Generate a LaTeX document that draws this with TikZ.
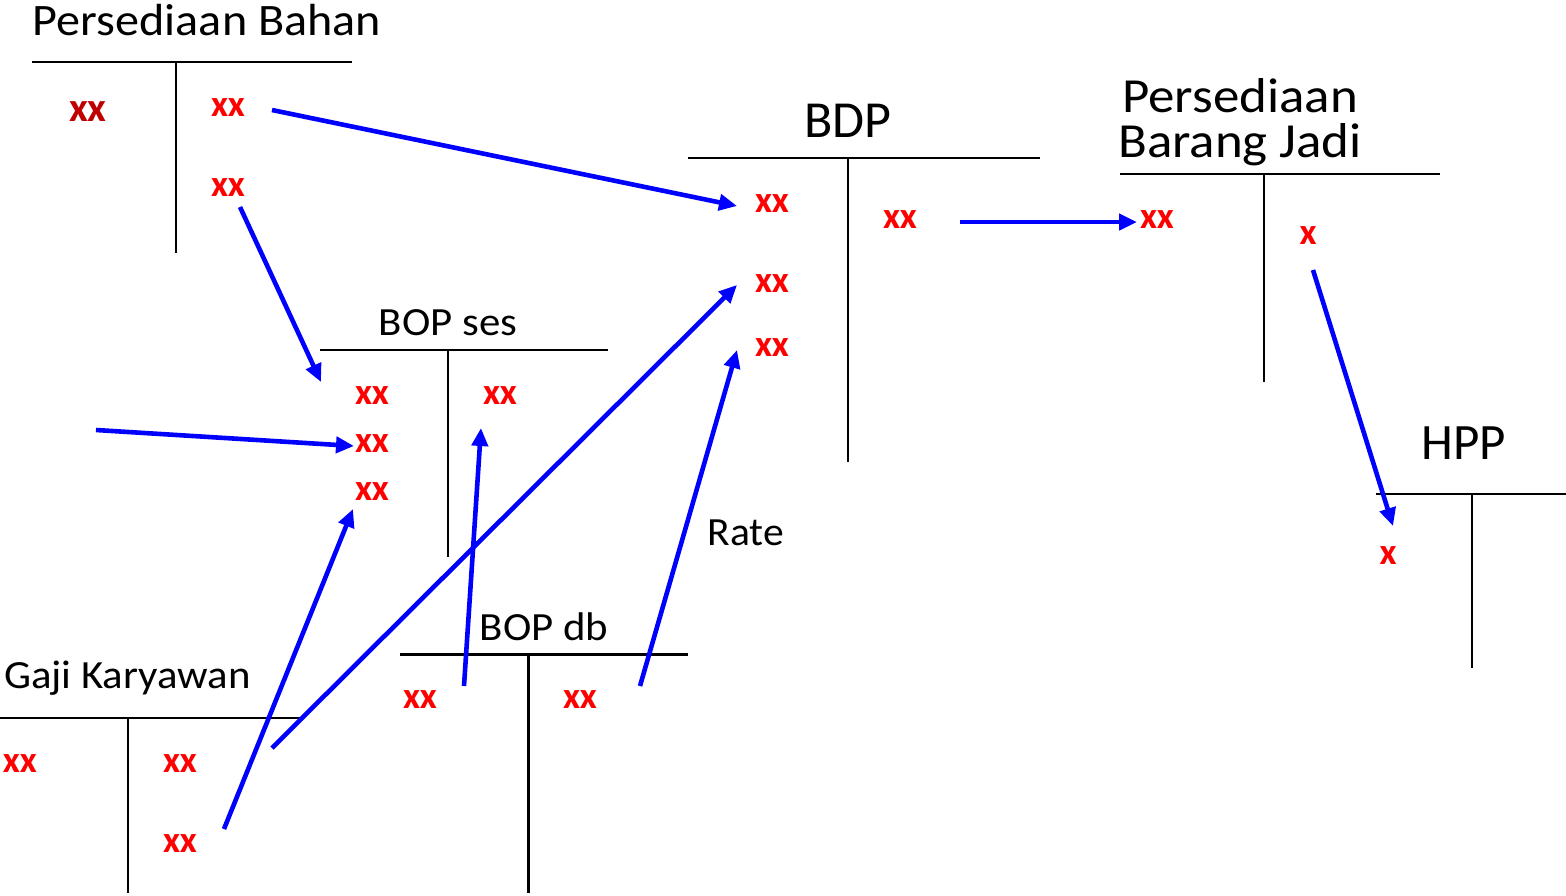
\documentclass[tikz,border=0pt]{standalone}
\usepackage{fontspec}
\setmainfont{Carlito}
\usetikzlibrary{arrows.meta}
\definecolor{xred}{HTML}{FF0000}
\definecolor{dred}{HTML}{C00000}
\definecolor{ablue}{HTML}{0000FF}
\newcommand\widetxt[1]{\scalebox{1.07}[1]{#1}}
\begin{document}
\begin{tikzpicture}[x=1pt,y=-1pt,
  acct/.style={line width=2pt,black},
  acctb/.style={line width=3pt,black},
  ttl/.style={inner sep=0pt,anchor=base,font=\fontsize{#1}{#1}\selectfont},
  amt/.style={inner sep=0pt,text=xred,font=\fontsize{37}{37}\selectfont\bfseries},
  flow/.style={ablue,line width=4.6pt,-{Triangle[length=18pt,width=16pt]}},
]
\useasboundingbox (0,0) rectangle (1566,895);
% Persediaan Bahan
\node[ttl=45] (tPB) at (207,35) {\widetxt{Persediaan Bahan}};
\draw[acct] (32,62) -- (352,62) (176,62) -- (176,253);
\node[amt,text=dred,font=\fontsize{41}{41}\selectfont\bfseries] (pb1) at (88,112) {xx};
\node[amt] (pb2) at (228,108) {xx};
\node[amt] (pb3) at (228,188) {xx};
% BDP
\node[ttl=52] (tBDP) at (848,137) {BDP};
\draw[acct] (688,158) -- (1040,158) (848,158) -- (848,462);
\node[amt] (bd1) at (772,204) {xx};
\node[amt] (bd2) at (772,284) {xx};
\node[amt] (bd3) at (772,348) {xx};
\node[amt] (bd4) at (900,220) {xx};
% Persediaan Barang Jadi
\node[ttl=49,anchor=base west] (tBJ1) at (1122,112) {\scalebox{1.08}[1]{Persediaan}};
\node[ttl=49,anchor=base west] (tBJ2) at (1118,157) {\scalebox{1.08}[1]{Barang Jadi}};
\draw[acct] (1120,174) -- (1440,174) (1264,174) -- (1264,382);
\node[amt] (bj1) at (1157,220) {xx};
\node[amt] (bj2) at (1308,236) {x};
% BOP ses
\node[ttl=40] (tBS) at (448,335) {\widetxt{BOP ses}};
\draw[acct] (320,350) -- (608,350) (448,350) -- (448,557);
\node[amt] (bs1) at (372,396) {xx};
\node[amt] (bs2) at (372,444) {xx};
\node[amt] (bs3) at (372,492) {xx};
\node[amt] (bs4) at (500,396) {xx};
% HPP
\node[ttl=51] (tHPP) at (1464,459) {HPP};
\draw[acct] (1376,494) -- (1566,494) (1472,494) -- (1472,668);
\node[amt] (hp1) at (1388,556) {x};
% BOP db
\node[ttl=40] (tBD) at (544,640) {\widetxt{BOP db}};
\draw[acctb] (400,654) -- (688,654) (528,654) -- (528,893);
\node[amt] (db1) at (420,700) {xx};
\node[amt] (db2) at (580,700) {xx};
% Gaji Karyawan
\node[ttl=40,anchor=base west] (tGK) at (4,688) {\widetxt{Gaji Karyawan}};
\draw[acct] (0,718) -- (300,718) (128,718) -- (128,893);
\node[amt] (gk1) at (20,764) {xx};
\node[amt] (gk2) at (180,764) {xx};
\node[amt] (gk3) at (180,844) {xx};
% Rate
\node[ttl=40] (tRate) at (746,545) {\scalebox{1.04}[1]{Rate}};
% arrow endpoints
\coordinate (a1s) at (272,110); \coordinate (a1e) at (737,206);
\coordinate (a2s) at (240,207); \coordinate (a2e) at (321,382);
\coordinate (a3s) at (96,430);  \coordinate (a3e) at (354,446);
\coordinate (a4s) at (224,829); \coordinate (a4e) at (353,509);
\coordinate (a5s) at (272,748); \coordinate (a5e) at (737,285);
\coordinate (a6s) at (464,686); \coordinate (a6e) at (481,428);
\coordinate (a7s) at (640,686); \coordinate (a7e) at (737,350);
\coordinate (a8s) at (960,222); \coordinate (a8e) at (1137,222);
\coordinate (a9s) at (1313,270); \coordinate (a9e) at (1393,526);
\draw[flow] (a1s) -- (a1e);
\draw[flow] (a2s) -- (a2e);
\draw[flow] (a3s) -- (a3e);
\draw[flow] (a4s) -- (a4e);
\draw[flow] (a5s) -- (a5e);
\draw[flow] (a6s) -- (a6e);
\draw[flow] (a7s) -- (a7e);
\draw[flow] (a8s) -- (a8e);
\draw[flow] (a9s) -- (a9e);
\end{tikzpicture}
\end{document}
